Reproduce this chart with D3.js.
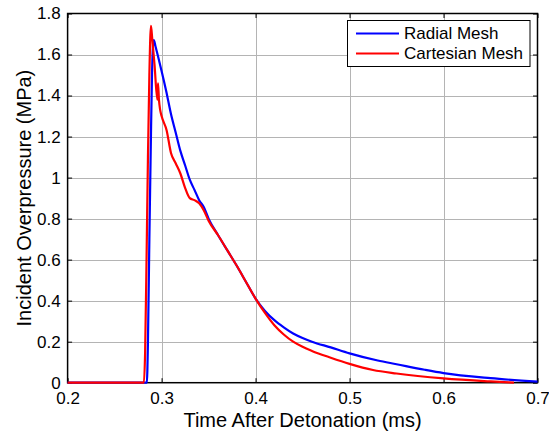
<!DOCTYPE html>
<html>
<head>
<meta charset="utf-8">
<script src="https://cdn.jsdelivr.net/npm/d3@7"></script>
<style>
  html, body { margin: 0; padding: 0; background: #fff; }
  svg { display: block; font-family: "Liberation Sans", Arial, Helvetica, sans-serif; }
</style>
</head>
<body>
<div id="chart"></div>
<script>
// ── Data ──────────────────────────────────────────────────
var radialTime = [0.2, 0.2843, 0.2855, 0.287, 0.2885, 0.2898, 0.291, 0.2918, 0.2935, 0.296, 0.3, 0.305,
  0.31, 0.315, 0.32, 0.325, 0.33, 0.335, 0.34, 0.345, 0.35, 0.36, 0.37, 0.38, 0.39, 0.4, 0.41, 0.42,
  0.43, 0.44, 0.45, 0.46, 0.48, 0.5, 0.53, 0.55, 0.58, 0.6, 0.65, 0.7];
var radialPressure = [0, 0, 0.2, 0.7, 1.15, 1.5, 1.65, 1.67, 1.64, 1.595, 1.52, 1.42,
  1.31, 1.22, 1.13, 1.06, 0.99, 0.94, 0.89, 0.855, 0.8, 0.72, 0.645, 0.57, 0.49, 0.41, 0.35, 0.305,
  0.27, 0.24, 0.218, 0.2, 0.172, 0.143, 0.108, 0.09, 0.063, 0.047, 0.022, 0.005];

var cartTime = [0.2, 0.2812, 0.2825, 0.284, 0.2855, 0.287, 0.2887, 0.29, 0.2925, 0.2955, 0.2962, 0.2972,
  0.2985, 0.3, 0.3054, 0.31, 0.315, 0.32, 0.325, 0.33, 0.335, 0.34, 0.345, 0.35, 0.36, 0.37, 0.38,
  0.39, 0.4, 0.41, 0.42, 0.43, 0.44, 0.45, 0.46, 0.48, 0.5, 0.525, 0.55, 0.6, 0.65, 0.675];
var cartPressure = [0, 0, 0.15, 0.6, 1.1, 1.5, 1.74, 1.68, 1.55, 1.38, 1.46, 1.38,
  1.33, 1.3, 1.23, 1.12, 1.07, 1.02, 0.95, 0.9, 0.89, 0.875, 0.84, 0.79, 0.72, 0.645, 0.57,
  0.49, 0.41, 0.34, 0.28, 0.235, 0.2, 0.175, 0.155, 0.122, 0.092, 0.062, 0.045, 0.021, 0.006, 0];

var xTicks = [0.2, 0.3, 0.4, 0.5, 0.6, 0.7];
var yTicks = [0, 0.2, 0.4, 0.6, 0.8, 1, 1.2, 1.4, 1.6, 1.8];
var seriesNames = ["Radial Mesh", "Cartesian Mesh"];
var seriesColors = ["#0000ff", "#ff0000"];

(function () {
  var W = 549, H = 432;
  var left = 67.6, right = 537.5, top = 13.5, bottom = 382.7;

  var svg = d3.select("#chart").append("svg").attr("width", W).attr("height", H);

  var x = d3.scaleLinear().domain([0.2, 0.7]).range([left, right]);
  var y = d3.scaleLinear().domain([0, 1.8]).range([bottom, top]);

  // MATLAB-ish tick labels: 0.2, 1, 0
  var fmt = function (d) { return String(+d.toFixed(1)); };

  // Grid
  var grid = svg.append("g").attr("stroke", "#b4b4b4").attr("stroke-width", 1);
  grid.selectAll(".gx").data(xTicks.slice(1, -1)).join("line")
    .attr("x1", function (d) { return Math.round(x(d)) + 0.5; })
    .attr("x2", function (d) { return Math.round(x(d)) + 0.5; })
    .attr("y1", top).attr("y2", bottom);
  grid.selectAll(".gy").data(yTicks.slice(1, -1)).join("line")
    .attr("y1", function (d) { return Math.round(y(d)) + 0.5; })
    .attr("y2", function (d) { return Math.round(y(d)) + 0.5; })
    .attr("x1", left).attr("x2", right);

  // Axes (ticks inside, box on)
  var tl = 4.5;
  var axX = d3.axisBottom(x).tickValues(xTicks).tickSizeInner(-tl).tickSizeOuter(0).tickPadding(9)
    .tickFormat(fmt);
  var axXTop = d3.axisTop(x).tickValues(xTicks).tickSizeInner(-tl).tickSizeOuter(0).tickFormat("");
  var axY = d3.axisLeft(y).tickValues(yTicks).tickSizeInner(-tl).tickSizeOuter(0).tickPadding(7)
    .tickFormat(fmt);
  var axYRight = d3.axisRight(y).tickValues(yTicks).tickSizeInner(-tl).tickSizeOuter(0).tickFormat("");

  function style(g) {
    g.selectAll(".domain").remove();
    g.selectAll(".tick line").attr("stroke", "#000").attr("stroke-width", 1);
    g.selectAll("text").attr("fill", "#000").style("font-size", "17px")
      .style("font-family", "'Liberation Sans', Arial, sans-serif");
  }
  svg.append("g").attr("transform", "translate(0," + bottom + ")").call(axX).call(style);
  svg.append("g").attr("transform", "translate(0," + top + ")").call(axXTop).call(style);
  svg.append("g").attr("transform", "translate(" + left + ",0)").call(axY).call(style);
  svg.append("g").attr("transform", "translate(" + right + ",0)").call(axYRight).call(style);

  svg.append("rect").attr("x", left).attr("y", top)
    .attr("width", right - left).attr("height", bottom - top)
    .attr("fill", "none").attr("stroke", "#000").attr("stroke-width", 1.5);

  // Curves
  var line = d3.line()
    .x(function (d) { return x(d[0]); })
    .y(function (d) { return y(d[1]); })
    .curve(d3.curveMonotoneX);

  var series = [
    d3.zip(radialTime, radialPressure),
    d3.zip(cartTime, cartPressure)
  ];
  svg.selectAll(".curve").data(series).join("path")
    .attr("class", "curve")
    .attr("d", line)
    .attr("fill", "none")
    .attr("stroke", function (d, i) { return seriesColors[i]; })
    .attr("stroke-width", 2.2)
    .attr("stroke-linejoin", "round");

  // Axis labels
  svg.append("text").attr("x", (left + right) / 2).attr("y", 427)
    .attr("text-anchor", "middle").style("font-size", "20px")
    .text("Time After Detonation (ms)");
  svg.append("text").attr("transform", "translate(31," + ((top + bottom) / 2) + ") rotate(-90)")
    .attr("text-anchor", "middle").style("font-size", "20px")
    .text("Incident Overpressure (MPa)");

  // Legend
  var lg = svg.append("g");
  lg.append("rect").attr("x", 347.5).attr("y", 20.5).attr("width", 182.5).attr("height", 46)
    .attr("fill", "#fff").attr("stroke", "#000").attr("stroke-width", 1);
  var rows = lg.selectAll(".row").data(seriesNames).join("g")
    .attr("transform", function (d, i) { return "translate(0," + (33.5 + i * 20) + ")"; });
  rows.append("line").attr("x1", 356).attr("x2", 399)
    .attr("stroke", function (d, i) { return seriesColors[i]; }).attr("stroke-width", 2.2);
  rows.append("text").attr("x", 404).attr("dy", "0.35em").style("font-size", "17px")
    .text(function (d) { return d; });
})();
</script>
</body>
</html>
